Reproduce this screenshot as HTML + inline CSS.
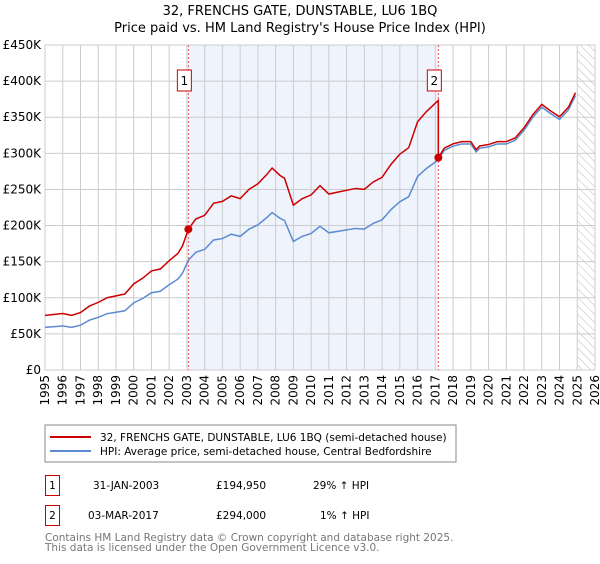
<!DOCTYPE html>
<html><head><meta charset="utf-8"><style>
body{margin:0;background:#fff;font-family:"DejaVu Sans","Liberation Sans",sans-serif;}
svg text{font-family:"DejaVu Sans","Liberation Sans",sans-serif;}
</style></head><body>
<svg id="c" width="600" height="560" xmlns="http://www.w3.org/2000/svg">
<defs><pattern id="hatch" width="6" height="6" patternUnits="userSpaceOnUse" patternTransform="rotate(-45)"><line x1="0" y1="0" x2="0" y2="6" stroke="#bbb" stroke-width="1"/></pattern></defs>
<text x="300" y="15" text-anchor="middle" font-size="13" fill="#000">32, FRENCHS GATE, DUNSTABLE, LU6 1BQ</text>
<text x="300" y="32" text-anchor="middle" font-size="13" fill="#000">Price paid vs. HM Land Registry's House Price Index (HPI)</text>
<g id="plot"></g>
<rect x="45" y="425" width="411" height="37" fill="#fff" stroke="#888"/>
<line x1="50" y1="437" x2="91" y2="437" stroke="#cc0000" stroke-width="2"/>
<text x="100" y="441" font-size="10.5">32, FRENCHS GATE, DUNSTABLE, LU6 1BQ (semi-detached house)</text>
<line x1="50" y1="451" x2="91" y2="451" stroke="#5b8bd0" stroke-width="2"/>
<text x="100" y="455" font-size="10.5">HPI: Average price, semi-detached house, Central Bedfordshire</text>
<g font-size="10.5">
<rect x="45.5" y="475.5" width="14" height="20" fill="none" stroke="#cc0000"/>
<text x="52.5" y="489" text-anchor="middle">1</text>
<text x="93" y="489">31-JAN-2003</text><text x="216" y="489">£194,950</text><text x="313" y="489">29% ↑ HPI</text>
<rect x="45.5" y="505.5" width="14" height="20" fill="none" stroke="#cc0000"/>
<text x="52.5" y="519" text-anchor="middle">2</text>
<text x="88" y="519">03-MAR-2017</text><text x="216" y="519">£294,000</text><text x="320" y="519">1% ↑ HPI</text>
</g>
<text x="45" y="541" font-size="10.5" fill="#777">Contains HM Land Registry data © Crown copyright and database right 2025.</text>
<text x="45" y="551" font-size="10.5" fill="#777">This data is licensed under the Open Government Licence v3.0.</text>
</svg>
<script>
const hpiDates=[1995,1996,1996.5,1997,1997.5,1998,1998.5,1999,1999.5,2000,2000.5,2001,2001.5,2002,2002.5,2002.75,2003.08,2003.5,2004,2004.5,2005,2005.5,2006,2006.5,2007,2007.5,2007.8,2008.25,2008.5,2009,2009.5,2010,2010.5,2011,2011.5,2012,2012.5,2013,2013.5,2014,2014.5,2015,2015.5,2016,2016.5,2017,2017.17,2017.5,2018,2018.5,2019,2019.3,2019.5,2020,2020.5,2021,2021.5,2022,2022.5,2023,2023.5,2024,2024.5,2024.9];
const hpiValues=[59,61,59,62,69,73,78,80,82,93,99,107,109,118,126,134,152,163,167,180,182,188,185,195,201,211,218,210,207,178,185,189,199,190,192,194,196,195,203,208,222,233,240,268,279,288,291,304,310,313,313,302,307,309,313,313,318,332,350,364,355,347,360,380];
const saleDates=[2003.08,2017.17];
const salePrices=[194950,294000];
const saleLabels=["1","2"];
const yTicks=[0,50,100,150,200,250,300,350,400,450];
const yTickLabels=["£0","£50K","£100K","£150K","£200K","£250K","£300K","£350K","£400K","£450K"];
const xYears=[];for(let y=1995;y<=2026;y++)xYears.push(y);

const X0=45,X1=595,Y0=370,Y1=45;
const xs=d=>X0+(d-1995)/(2026-1995)*(X1-X0);
const ys=v=>Y0-v/450*(Y0-Y1);
const NS="http://www.w3.org/2000/svg";
const g=document.getElementById('plot');
function mk(t,a){const e=document.createElementNS(NS,t);for(const k in a)e.setAttribute(k,a[k]);g.appendChild(e);return e;}

let e=mk('rect',{x:xs(saleDates[0]),y:Y1,width:xs(saleDates[1])-xs(saleDates[0]),height:Y0-Y1,fill:'#eef3fc'});


e=mk('rect',{x:xs(2025),y:Y1,width:X1-xs(2025),height:Y0-Y1,fill:'url(#hatch)'});


xYears.forEach(y=>{
 e=mk('line',{x1:xs(y),y1:Y1,x2:xs(y),y2:Y0,stroke:'#ccc','stroke-width':1});
 
 
 e=mk('text',{x:0,y:0,'font-size':12,'text-anchor':'end',transform:`translate(${xs(y)+4},375) rotate(-90)`});
 e.textContent=y;
 
 
});
yTicks.forEach((v,i)=>{
 e=mk('line',{x1:X0,y1:ys(v),x2:X1,y2:ys(v),stroke:'#ccc','stroke-width':1});
 
 
 e=mk('text',{x:X0-4,y:ys(v)+4,'font-size':12,'text-anchor':'end'});
 e.textContent=yTickLabels[i];
 
 
});
e=mk('rect',{x:X0,y:Y1,width:X1-X0,height:Y0-Y1,fill:'none',stroke:'#ccc'});



function interp(d){for(let i=0;i<hpiDates.length-1;i++){if(d<=hpiDates[i+1]){const t=(d-hpiDates[i])/(hpiDates[i+1]-hpiDates[i]);return hpiValues[i]+t*(hpiValues[i+1]-hpiValues[i]);}}return hpiValues[hpiValues.length-1];}
const r1=salePrices[0]/1000/interp(saleDates[0]);
const r2=salePrices[1]/1000/interp(saleDates[1]);
const redPts=[];
hpiDates.forEach((d,i)=>{
 if(d<saleDates[1]) redPts.push([d,hpiValues[i]*r1]);
 else { if(d===saleDates[1]){redPts.push([d,hpiValues[i]*r1]);} redPts.push([d,hpiValues[i]*r2]); }
});
saleDates.forEach((d,i)=>{
 e=mk('line',{x1:xs(d),y1:Y1,x2:xs(d),y2:Y0,stroke:'#e55','stroke-width':1,'stroke-dasharray':'2,2'});
 
 
});
e=mk('polyline',{points:hpiDates.map((d,i)=>xs(d)+','+ys(hpiValues[i])).join(' '),fill:'none',stroke:'#5b8bd0','stroke-width':1.5});


e=mk('polyline',{points:redPts.map(p=>xs(p[0])+','+ys(p[1])).join(' '),fill:'none',stroke:'#cc0000','stroke-width':1.5});


saleDates.forEach((d,i)=>{
 e=mk('circle',{cx:xs(d),cy:ys(salePrices[i]/1000),r:4,fill:'#cc0000'});
 
 
 e=mk('rect',{x:xs(d)-11,y:70,width:14,height:21,fill:'#fff',stroke:'#cc0000'});
 
 
 e=mk('text',{x:xs(d)-4,y:85,'font-size':12,'text-anchor':'middle'});
 e.textContent=saleLabels[i];
 
 
});
</script>
</body></html>
